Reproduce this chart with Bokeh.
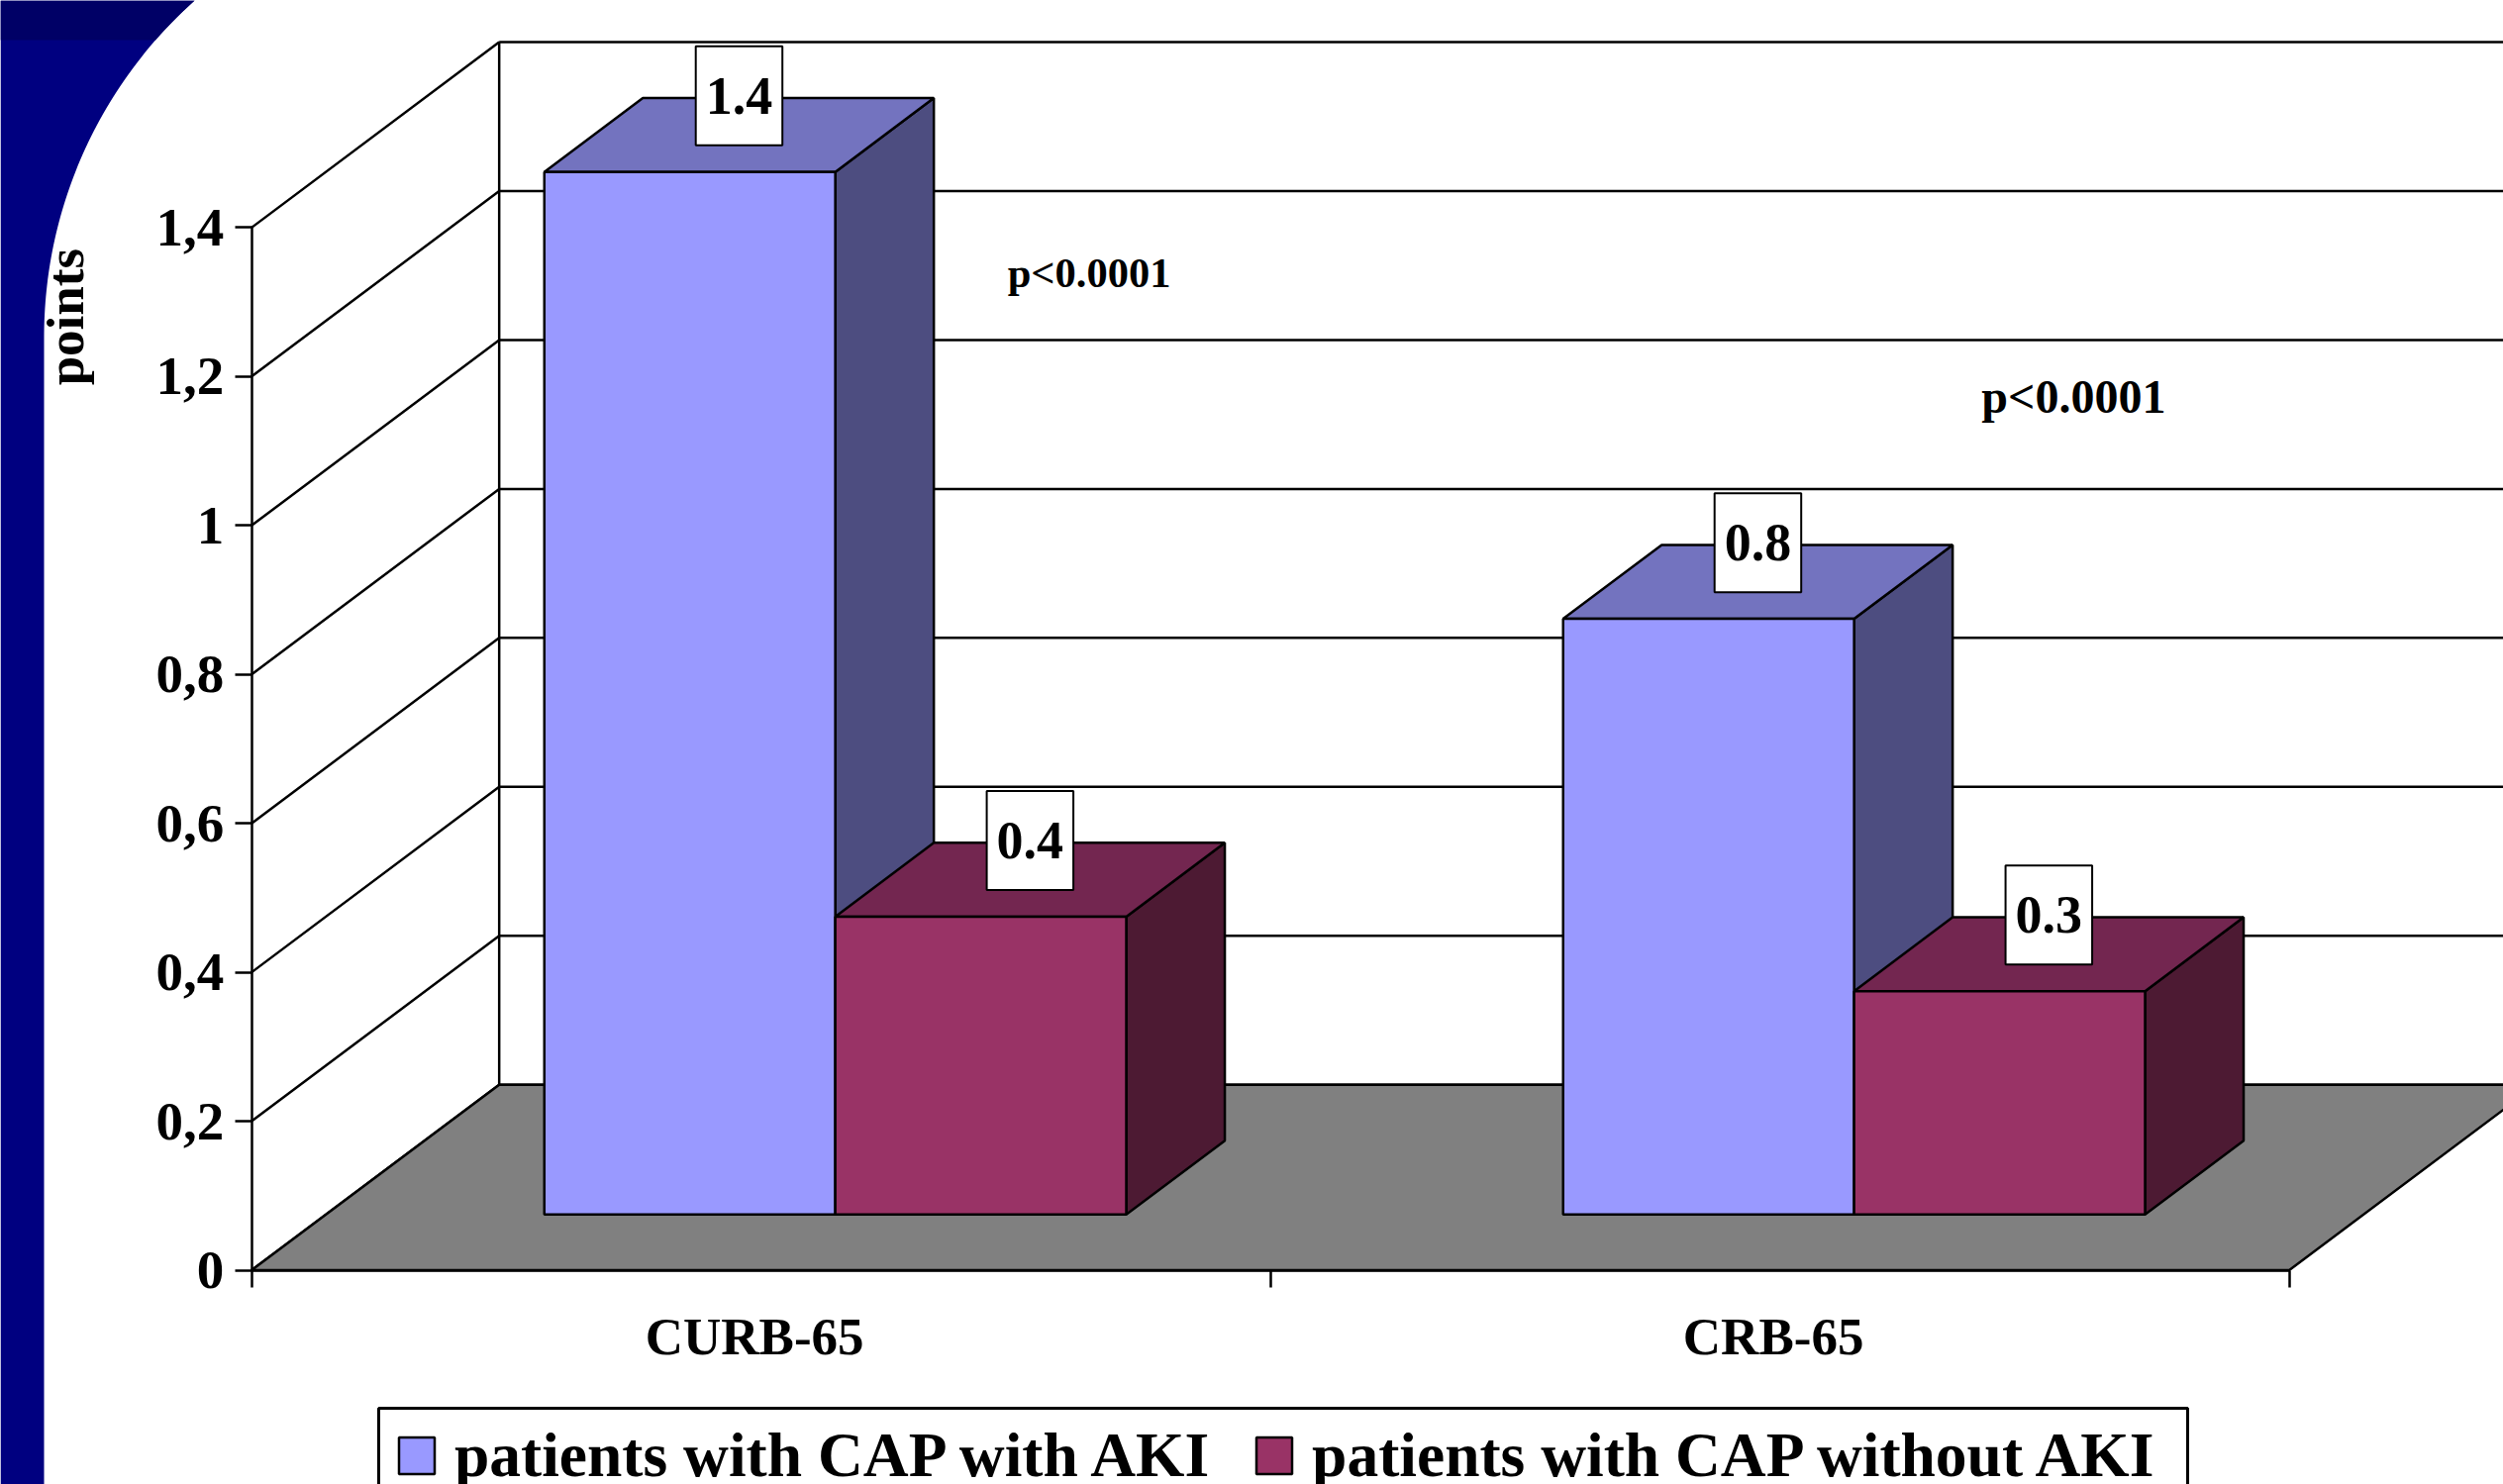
import numpy as np
from bokeh.plotting import figure
from bokeh.models import (Range1d, LinearAxis, FixedTicker, Legend, LegendItem,
                          PolyAnnotation)
from bokeh.core.properties import value
from bokeh.embed import file_html
from bokeh.resources import INLINE

# ---- data ----
categories = ["CURB-65", "CRB-65"]
cat_centers = [0.5, 1.5]
series_names = ["patients with CAP with AKI", "patients with CAP without AKI"]
with_aki = [1.4, 0.8]
without_aki = [0.4, 0.3]
data_labels_a = ["1.4", "0.8"]
data_labels_b = ["0.4", "0.3"]
y_ticks = [0, 0.2, 0.4, 0.6, 0.8, 1.0, 1.2, 1.4]
y_tick_labels = ["0", "0,2", "0,4", "0,6", "0,8", "1", "1,2", "1,4"]
colors_a = ["#9999FF", "#7373BF", "#4D4D80"]   # front, top, side
colors_b = ["#993366", "#732650", "#4D1A33"]

# ---- oblique projection of the 3-D box ----
W, H = 2528, 1499
FONT = "Liberation Serif"
DX, DY = 0.243, 0.249        # screen shift for full floor depth
BAR_W = 0.2856
D0, D1 = 0.30, 0.698         # bar front/back depth
X_START, X_END = -0.2465, 2.2103
Y_START, Y_END = -0.2878, 1.7049

def proj(x, v, d):
    return x + d * DX, v + d * DY

def bar_faces(x0, x1, v):
    front = [proj(x0, 0, D0), proj(x1, 0, D0), proj(x1, v, D0), proj(x0, v, D0)]
    top = [proj(x0, v, D0), proj(x1, v, D0), proj(x1, v, D1), proj(x0, v, D1)]
    side = [proj(x1, 0, D0), proj(x1, 0, D1), proj(x1, v, D1), proj(x1, v, D0)]
    return [([c[0] for c in f], [c[1] for c in f]) for f in (front, top, side)]

p = figure(width=W, height=H, output_backend="svg", toolbar_location=None,
           x_range=Range1d(X_START, X_END), y_range=Range1d(Y_START, Y_END),
           x_axis_location=None, y_axis_location=None, min_border=0,
           background_fill_color="white", border_fill_color="white")
p.grid.visible = False
p.outline_line_color = None

# ---- slide decoration (screen units, measured from the bottom) ----
def circle_x(y):
    return 500 - np.sqrt(456.0 ** 2 - (340 - y) ** 2)

ys_curve = np.linspace(0, 340, 60)
xs_main = [0] + list(circle_x(ys_curve)) + [44, 0]
ys_main = [0] + list(ys_curve) + [H, H]
p.add_layout(PolyAnnotation(xs=[float(a) for a in xs_main], ys=[float(H - b) for b in ys_main],
                            xs_units="screen", ys_units="screen",
                            fill_color="#000080", fill_alpha=1, line_color=None, level="underlay"))
ys_band = np.linspace(0, 40, 10)
xs_band = [0] + list(circle_x(ys_band)) + [0]
ys_band2 = [0] + list(ys_band) + [40]
p.add_layout(PolyAnnotation(xs=[float(a) for a in xs_band], ys=[float(H - b) for b in ys_band2],
                            xs_units="screen", ys_units="screen",
                            fill_color="#000066", fill_alpha=1, line_color=None, level="underlay"))

# ---- walls and floor ----
LW = 2.5
x_end = 2
back_x = [[proj(0, v, 1)[0], proj(x_end, v, 1)[0]] for v in y_ticks]
back_y = [[proj(0, v, 1)[1], proj(x_end, v, 1)[1]] for v in y_ticks]
p.multi_line(back_x, back_y, line_color="black", line_width=LW)
side_x = [[proj(0, v, 0)[0], proj(0, v, 1)[0]] for v in y_ticks]
side_y = [[proj(0, v, 0)[1], proj(0, v, 1)[1]] for v in y_ticks]
p.multi_line(side_x, side_y, line_color="black", line_width=LW)
vmax = y_ticks[-1]
p.line([proj(0, 0, 1)[0], proj(0, vmax, 1)[0]], [proj(0, 0, 1)[1], proj(0, vmax, 1)[1]],
       line_color="black", line_width=LW)
floor = [proj(0, 0, 0), proj(x_end, 0, 0), proj(x_end, 0, 1), proj(0, 0, 1)]
p.patch([c[0] for c in floor], [c[1] for c in floor], fill_color="#808080",
        line_color="black", line_width=LW)

# ---- bars ----
def draw_series(vals, offset0, cols):
    faces = [bar_faces(c + offset0, c + offset0 + BAR_W, v) for c, v in zip(cat_centers, vals)]
    p.patches([f[2][0] for f in faces], [f[2][1] for f in faces], fill_color=cols[2],
              line_color="black", line_width=LW)
    p.patches([f[1][0] for f in faces], [f[1][1] for f in faces], fill_color=cols[1],
              line_color="black", line_width=LW)
    return p.patches([f[0][0] for f in faces], [f[0][1] for f in faces], fill_color=cols[0],
                     line_color="black", line_width=LW)

r_a = draw_series(with_aki, -BAR_W, colors_a)
r_b = draw_series(without_aki, 0, colors_b)

# ---- value labels: mid-depth horizontally, back edge of the top vertically ----
lab_x, lab_y, lab_t = [], [], []
for vals, off, labs in [(with_aki, -BAR_W / 2, data_labels_a), (without_aki, BAR_W / 2, data_labels_b)]:
    for c, v, t in zip(cat_centers, vals, labs):
        lab_x.append(proj(c + off, v, (D0 + D1) / 2)[0])
        lab_y.append(proj(c + off, v, D1)[1] + 0.003)
        lab_t.append(t)
p.text(lab_x, lab_y, text=lab_t, text_font=value(FONT), text_font_style="bold",
       text_font_size="54px", text_align="center", text_baseline="middle", text_color="black",
       background_fill_color="white", border_line_color="black", border_line_width=2,
       padding=(10, 32))

# ---- annotations ----
p.text([0.742, 1.698], [1.339, 1.173], text=["p<0.0001", "p<0.0001"], text_font=value(FONT),
       text_font_style="bold", text_font_size=["42.5px", "48px"], text_align="left",
       text_baseline="middle", text_color="black")
p.text([-0.1825], [1.28], text=["points"], angle=np.pi / 2, text_font=value(FONT),
       text_font_style="bold", text_font_size="53px", text_align="center",
       text_baseline="middle", text_color="black")

# ---- axes ----
yaxis = LinearAxis(fixed_location=0, ticker=FixedTicker(ticks=y_ticks),
                   major_label_overrides=dict(zip(y_ticks, y_tick_labels)), bounds=(0, vmax))
yaxis.axis_line_color = "black"; yaxis.axis_line_width = LW
yaxis.major_tick_line_color = "black"; yaxis.major_tick_line_width = LW
yaxis.major_tick_in = 0; yaxis.major_tick_out = 17; yaxis.minor_tick_line_color = None
yaxis.major_label_standoff = 11
yaxis.major_label_text_font = FONT; yaxis.major_label_text_font_style = "bold"
yaxis.major_label_text_font_size = "55px"; yaxis.major_label_text_color = "black"
p.add_layout(yaxis, "left")

label_ticks = [c - 0.0063 for c in cat_centers]
xaxis = LinearAxis(fixed_location=0, ticker=FixedTicker(ticks=label_ticks, minor_ticks=[0, 1, 2]),
                   major_label_overrides=dict(zip(label_ticks, categories)), bounds=(0, 2))
xaxis.axis_line_color = "black"; xaxis.axis_line_width = LW
xaxis.major_tick_line_color = None; xaxis.major_tick_in = 0; xaxis.major_tick_out = 0
xaxis.minor_tick_line_color = "black"; xaxis.minor_tick_line_width = LW
xaxis.minor_tick_in = 0; xaxis.minor_tick_out = 17
xaxis.major_label_standoff = 21
xaxis.major_label_text_font = FONT; xaxis.major_label_text_font_style = "bold"
xaxis.major_label_text_font_size = "53px"; xaxis.major_label_text_color = "black"
p.add_layout(xaxis, "below")

# ---- legend frame + legend ----
p.add_layout(PolyAnnotation(xs=[382.0, 2209.0, 2209.0, 382.0],
                            ys=[float(H - 1422), float(H - 1422), -10.0, -10.0],
                            xs_units="screen", ys_units="screen",
                            fill_color="white", fill_alpha=1, line_color="black", line_alpha=1,
                            line_width=3))
legend = Legend(items=[LegendItem(label=series_names[0], renderers=[r_a]),
                       LegendItem(label=series_names[1], renderers=[r_b])],
                orientation="horizontal", location=(398, -8), glyph_width=45, glyph_height=46,
                label_standoff=16, spacing=43, padding=16, margin=0,
                label_text_font=FONT, label_text_font_style="bold", label_text_font_size="63.5px",
                label_text_color="black", border_line_color=None,
                background_fill_color=None, background_fill_alpha=0)
p.add_layout(legend, "center")

open("out.html", "w").write(file_html(p, INLINE))
